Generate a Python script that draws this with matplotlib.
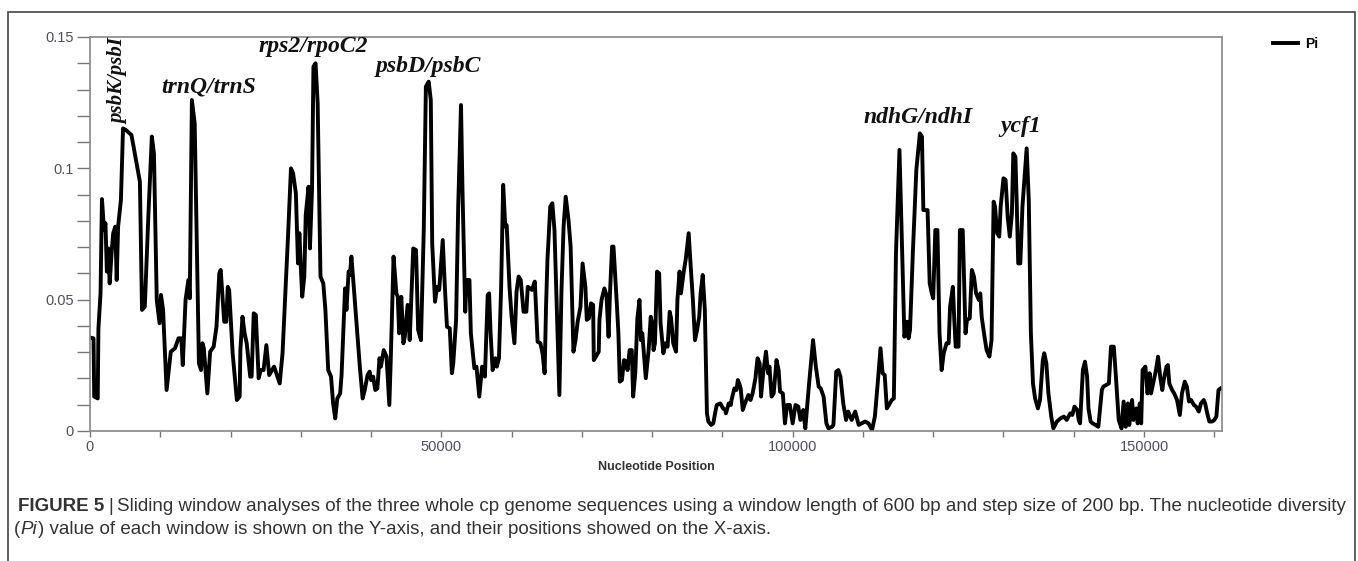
import matplotlib.pyplot as plt
from matplotlib.patches import Rectangle
from matplotlib.ticker import MultipleLocator, FixedLocator

# sliding window midpoints (bp) and nucleotide diversity
position = [
    100, 500, 600, 1100, 1200, 1500, 1700, 2000, 2200, 2400,
    2600, 2800, 3100, 3300, 3600, 3800, 4000, 4400, 4700, 5100,
    5900, 7100, 7400, 7800, 8300, 8800, 9100, 9500, 9900, 10100,
    10400, 10900, 11500, 12100, 12600, 13000, 13200, 13600, 14000, 14200,
    14500, 14900, 15500, 15800, 16000, 16200, 16700, 17100, 17600, 18000,
    18400, 18600, 19100, 19400, 19600, 19800, 20300, 20900, 21300, 21400,
    21700, 22000, 22300, 22800, 23000, 23300, 23600, 24000, 24300, 24700,
    25100, 25500, 25900, 26200, 26600, 27000, 27400, 27800, 28200, 28600,
    28900, 29300, 29600, 29800, 30000, 30200, 30500, 30700, 31100, 31300,
    31600, 31800, 32100, 32400, 32600, 32800, 33200, 33500, 33900, 34300,
    34600, 34900, 35200, 35600, 35800, 36300, 36500, 36800, 37000, 37200,
    37500, 38000, 38400, 38800, 39100, 39500, 39800, 40000, 40300, 40600,
    40900, 41200, 41400, 41800, 42200, 42600, 42800, 43200, 43600, 43800,
    44000, 44300, 44600, 44800, 45200, 45500, 45800, 46000, 46400, 46700,
    47100, 47500, 47800, 48200, 48500, 48700, 49100, 49400, 49700, 50200,
    50500, 50800, 51200, 51500, 51700, 52100, 52400, 52800, 53000, 53400,
    53600, 54000, 54200, 54700, 55000, 55400, 55800, 56200, 56600, 56800,
    57000, 57300, 57700, 57900, 58200, 58500, 58800, 59100, 59300, 59700,
    60000, 60400, 60700, 61000, 61300, 61700, 62100, 62300, 62900, 63300,
    63700, 64100, 64400, 64700, 64900, 65100, 65500, 65800, 66100, 66400,
    66800, 67100, 67400, 67700, 68100, 68400, 68800, 69100, 69400, 69800,
    70100, 70500, 70700, 71000, 71300, 71600, 71700, 72000, 72400, 72500,
    72800, 73200, 73500, 73800, 74000, 74300, 74500, 75000, 75200, 75400,
    75700, 76000, 76300, 76500, 76800, 77100, 77300, 77600, 77900, 78200,
    78400, 78600, 78900, 79100, 79500, 79800, 80000, 80200, 80400, 80700,
    81000, 81200, 81600, 81900, 82200, 82500, 82700, 83000, 83400, 83600,
    83900, 84100, 84500, 84800, 85200, 85400, 85800, 86100, 86400, 86700,
    86900, 87200, 87500, 87800, 88000, 88400, 88700, 89000, 89200, 89700,
    90100, 90400, 90500, 90900, 91200, 91300, 91700, 92000, 92200, 92400,
    92600, 92900, 93200, 93500, 93700, 94000, 94300, 94700, 95000, 95300,
    95500, 95800, 96200, 96500, 96700, 97000, 97300, 97700, 98000, 98200,
    98600, 98900, 99200, 99600, 100000, 100400, 100800, 101100, 101500, 101800,
    102300, 102900, 103300, 103700, 104000, 104400, 104800, 105100, 105600, 105800,
    106200, 106500, 106800, 107200, 107600, 107900, 108400, 108900, 109400, 109800,
    110300, 110800, 111300, 111700, 112100, 112500, 112800, 113100, 113400, 113700,
    114100, 114400, 114700, 115200, 115500, 115900, 116300, 116500, 116700, 117100,
    117600, 118100, 118400, 118600, 119200, 119500, 119800, 120000, 120300, 120600,
    120900, 121200, 121500, 121900, 122200, 122400, 122800, 123000, 123200, 123600,
    123800, 124200, 124600, 124800, 125200, 125500, 125800, 126100, 126500, 126700,
    126900, 127300, 127600, 128000, 128300, 128600, 128800, 129100, 129400, 129600,
    130000, 130300, 130600, 130900, 131200, 131400, 131700, 131900, 132100, 132400,
    132700, 133000, 133300, 133600, 133900, 134200, 134500, 134900, 135200, 135600,
    135800, 136100, 136400, 136800, 137100, 137600, 138100, 138600, 139000, 139500,
    139800, 140100, 140500, 140700, 140900, 141300, 141600, 141900, 142100, 142400,
    142700, 143100, 143500, 144000, 144200, 144600, 145000, 145300, 145700, 146000,
    146400, 146800, 147100, 147400, 147700, 147900, 148300, 148500, 148900, 149100,
    149400, 149600, 149800, 150200, 150500, 150800, 151000, 151400, 151700, 152000,
    152300, 152600, 152800, 153200, 153400, 153600, 154000, 154300, 154700, 155100,
    155400, 155800, 156100, 156400, 156700, 157100, 157400, 157800, 158100, 158500,
    158700, 159000, 159300, 159700, 160000, 160300, 160600, 160900,
]
pi = [
    0.0355, 0.0353, 0.0131, 0.0124, 0.0391, 0.0524, 0.0883, 0.0765, 0.0791, 0.0607,
    0.0695, 0.0562, 0.0689, 0.0753, 0.0778, 0.0575, 0.0778, 0.0879, 0.1152, 0.1146,
    0.1127, 0.0949, 0.0461, 0.0473, 0.0816, 0.1121, 0.1057, 0.0499, 0.0410, 0.0518,
    0.0461, 0.0156, 0.0302, 0.0315, 0.0353, 0.0353, 0.0251, 0.0499, 0.0575, 0.0505,
    0.1260, 0.1171, 0.0258, 0.0232, 0.0334, 0.0315, 0.0143, 0.0302, 0.0321, 0.0397,
    0.0600, 0.0613, 0.0416, 0.0416, 0.0549, 0.0537, 0.0296, 0.0118, 0.0131, 0.0308,
    0.0435, 0.0372, 0.0334, 0.0207, 0.0207, 0.0448, 0.0442, 0.0201, 0.0232, 0.0232,
    0.0327, 0.0213, 0.0232, 0.0245, 0.0213, 0.0181, 0.0296, 0.0524, 0.0753, 0.1000,
    0.0981, 0.0905, 0.0638, 0.0753, 0.0626, 0.0511, 0.0588, 0.0822, 0.0930, 0.0695,
    0.0924, 0.1387, 0.1400, 0.1247, 0.0930, 0.0588, 0.0562, 0.0461, 0.0232, 0.0207,
    0.0105, 0.0048, 0.0124, 0.0143, 0.0213, 0.0543, 0.0461, 0.0607, 0.0594, 0.0664,
    0.0562, 0.0385, 0.0245, 0.0124, 0.0156, 0.0213, 0.0226, 0.0194, 0.0207, 0.0156,
    0.0162, 0.0277, 0.0245, 0.0308, 0.0283, 0.0099, 0.0270, 0.0664, 0.0524, 0.0511,
    0.0372, 0.0511, 0.0334, 0.0359, 0.0480, 0.0346, 0.0549, 0.0695, 0.0689, 0.0385,
    0.0346, 0.0765, 0.1311, 0.1330, 0.1260, 0.0714, 0.0492, 0.0549, 0.0537, 0.0727,
    0.0549, 0.0397, 0.0391, 0.0220, 0.0258, 0.0423, 0.0854, 0.1241, 0.0930, 0.0454,
    0.0575, 0.0575, 0.0372, 0.0239, 0.0245, 0.0131, 0.0245, 0.0207, 0.0518, 0.0524,
    0.0378, 0.0232, 0.0277, 0.0245, 0.0277, 0.0537, 0.0937, 0.0778, 0.0784, 0.0549,
    0.0435, 0.0334, 0.0530, 0.0588, 0.0575, 0.0454, 0.0454, 0.0549, 0.0537, 0.0569,
    0.0340, 0.0334, 0.0296, 0.0220, 0.0473, 0.0651, 0.0854, 0.0867, 0.0765, 0.0492,
    0.0137, 0.0537, 0.0778, 0.0892, 0.0803, 0.0702, 0.0302, 0.0346, 0.0416, 0.0473,
    0.0638, 0.0549, 0.0423, 0.0429, 0.0486, 0.0480, 0.0270, 0.0283, 0.0302, 0.0423,
    0.0499, 0.0543, 0.0518, 0.0359, 0.0524, 0.0702, 0.0702, 0.0473, 0.0372, 0.0188,
    0.0194, 0.0270, 0.0264, 0.0232, 0.0308, 0.0308, 0.0131, 0.0220, 0.0429, 0.0499,
    0.0346, 0.0372, 0.0270, 0.0201, 0.0308, 0.0435, 0.0410, 0.0308, 0.0334, 0.0607,
    0.0600, 0.0410, 0.0296, 0.0334, 0.0321, 0.0454, 0.0429, 0.0334, 0.0302, 0.0499,
    0.0607, 0.0524, 0.0607, 0.0657, 0.0753, 0.0664, 0.0499, 0.0346, 0.0385, 0.0435,
    0.0524, 0.0594, 0.0461, 0.0067, 0.0036, 0.0023, 0.0029, 0.0074, 0.0099, 0.0105,
    0.0086, 0.0080, 0.0067, 0.0105, 0.0099, 0.0118, 0.0162, 0.0156, 0.0194, 0.0181,
    0.0162, 0.0080, 0.0105, 0.0124, 0.0137, 0.0118, 0.0143, 0.0201, 0.0277, 0.0258,
    0.0131, 0.0220, 0.0302, 0.0220, 0.0245, 0.0131, 0.0143, 0.0270, 0.0232, 0.0150,
    0.0143, 0.0029, 0.0099, 0.0099, 0.0029, 0.0099, 0.0093, 0.0042, 0.0080, 0.0010,
    0.0169, 0.0346, 0.0245, 0.0169, 0.0162, 0.0131, 0.0029, 0.0010, 0.0016, 0.0023,
    0.0226, 0.0232, 0.0207, 0.0105, 0.0042, 0.0074, 0.0042, 0.0074, 0.0023, 0.0029,
    0.0036, 0.0029, 0.0004, 0.0055, 0.0181, 0.0315, 0.0220, 0.0213, 0.0086, 0.0099,
    0.0118, 0.0124, 0.0676, 0.1070, 0.0765, 0.0359, 0.0416, 0.0353, 0.0385, 0.0676,
    0.0994, 0.1133, 0.1121, 0.0841, 0.0841, 0.0562, 0.0524, 0.0505, 0.0765, 0.0765,
    0.0372, 0.0232, 0.0296, 0.0334, 0.0334, 0.0473, 0.0549, 0.0423, 0.0321, 0.0321,
    0.0765, 0.0765, 0.0372, 0.0423, 0.0429, 0.0613, 0.0588, 0.0524, 0.0499, 0.0524,
    0.0435, 0.0359, 0.0308, 0.0283, 0.0346, 0.0873, 0.0854, 0.0753, 0.0740, 0.0854,
    0.0962, 0.0956, 0.0816, 0.0740, 0.0829, 0.1057, 0.1044, 0.0854, 0.0638, 0.0638,
    0.0854, 0.0968, 0.1076, 0.0879, 0.0372, 0.0181, 0.0124, 0.0086, 0.0118, 0.0270,
    0.0296, 0.0258, 0.0143, 0.0055, 0.0010, 0.0036, 0.0048, 0.0055, 0.0042, 0.0067,
    0.0061, 0.0093, 0.0080, 0.0042, 0.0029, 0.0232, 0.0264, 0.0207, 0.0086, 0.0036,
    0.0029, 0.0023, 0.0016, 0.0156, 0.0169, 0.0175, 0.0181, 0.0321, 0.0321, 0.0207,
    0.0042, 0.0010, 0.0112, 0.0016, 0.0105, 0.0023, 0.0118, 0.0042, 0.0086, 0.0029,
    0.0105, 0.0029, 0.0232, 0.0245, 0.0143, 0.0220, 0.0143, 0.0194, 0.0232, 0.0283,
    0.0207, 0.0156, 0.0194, 0.0245, 0.0251, 0.0181, 0.0156, 0.0143, 0.0118, 0.0061,
    0.0143, 0.0188, 0.0169, 0.0112, 0.0118, 0.0099, 0.0093, 0.0074, 0.0105, 0.0118,
    0.0105, 0.0067, 0.0036, 0.0036, 0.0042, 0.0055, 0.0156, 0.0162,
]

# hypervariable regions marked on the plot
region_names = ["trnQ/trnS", "rps2/rpoC2", "psbD/psbC", "ndhG/ndhI", "ycf1"]
region_x = [16900, 31800, 48200, 117900, 132400]
region_y = [0.129, 0.1442, 0.1367, 0.1173, 0.1138]
vertical_name = "psbK/psbI"
vertical_x = 4100
vertical_y = 0.1332

x_ticks = [0, 50000, 100000, 150000]
y_ticks = [0, 0.05, 0.1, 0.15]
y_tick_labels = ["0", "0.05", "0.1", "0.15"]

caption_1 = ("Sliding window analyses of the three whole cp genome sequences using a window "
             "length of 600 bp and step size of 200 bp. The nucleotide diversity")
caption_2 = ") value of each window is shown on the Y-axis, and their positions showed on the X-axis."

W, H = 1358, 561
fig = plt.figure(figsize=(W / 100, H / 100), dpi=100)
ax = fig.add_axes([90 / W, 1 - 431 / H, (1222 - 90) / W, (431 - 37) / H])

ax.plot(position, pi, color="black", lw=2.8, label="Pi")
ax.set_xlim(0, 161100)
ax.set_ylim(0, 0.15)

tick_col = "#50505a"
ax.xaxis.set_major_locator(FixedLocator(x_ticks))
ax.xaxis.set_minor_locator(MultipleLocator(10000))
ax.set_xticklabels([str(v) for v in x_ticks])
ax.yaxis.set_major_locator(FixedLocator(y_ticks))
ax.yaxis.set_minor_locator(MultipleLocator(0.01))
ax.set_yticklabels(y_tick_labels)
ax.tick_params(axis="both", which="both", color="#777777", labelcolor=tick_col,
               labelsize=10.5, direction="out", width=1)
ax.tick_params(axis="y", which="both", length=9.5, pad=2)
ax.tick_params(axis="x", which="both", length=4.5, pad=2)
for lab in ax.get_xticklabels() + ax.get_yticklabels():
    lab.set_fontfamily("Liberation Sans")
for sp in ax.spines.values():
    sp.set_color("#888888")
    sp.set_linewidth(1.2)

ax.set_xlabel("Nucleotide Position", fontsize=9, fontweight="bold",
              family="Liberation Sans", color="#333333", labelpad=5)

anno = dict(family="Liberation Serif", style="italic", fontweight="bold",
            fontsize=17, color="#111111")
for name, xx, yy in zip(region_names, region_x, region_y):
    ax.text(xx, yy, name, ha="center", va="baseline", **anno)
ax.text(vertical_x, vertical_y, vertical_name, rotation=90, ha="center", va="center",
        **dict(anno, fontsize=15))

fig.legend(loc="upper left", bbox_to_anchor=(1266 / W, 1 - 30 / H), frameon=False,
           handlelength=1.8, handletextpad=0.5, borderpad=0,
           prop=dict(family="Liberation Sans", weight="bold", size=10))

# outer figure frame
fig.add_artist(Rectangle((8 / W, -0.05), (1355 - 8) / W, 1.05 - 12 / H,
                         transform=fig.transFigure, fill=False, ec="#444444", lw=1.2))

# caption with mixed styles
renderer = fig.canvas.get_renderer()


def runs(x, y, parts):
    for txt, kw, gap in parts:
        t = fig.text(x, y, txt, va="baseline", family="Liberation Sans", fontsize=13.5,
                     color="#333333", **kw)
        bb = t.get_window_extent(renderer)
        x = bb.x1 / W + gap / W


runs(18 / W, 1 - 511 / H, [("FIGURE 5", dict(fontweight="bold"), 4),
                            ("|", {}, 4), (caption_1, {}, 0)])
runs(14 / W, 1 - 534 / H, [("(", {}, 0.5), ("Pi", dict(style="italic"), 0.5),
                            (caption_2, {}, 0)])

fig.savefig("out.png", dpi=100)
